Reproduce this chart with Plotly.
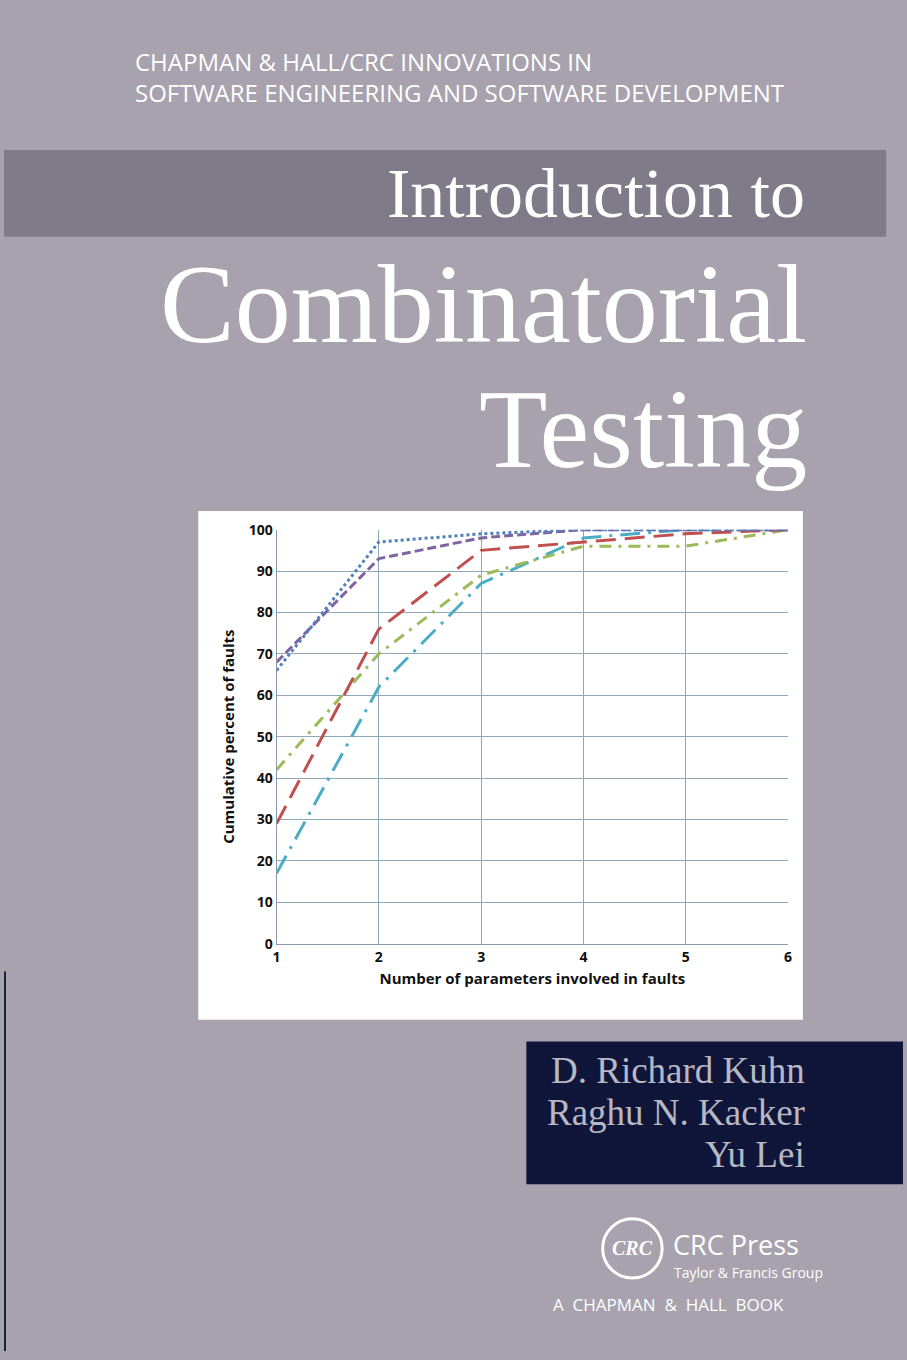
import plotly.graph_objects as go

W, H = 907, 1360
params = [1, 2, 3, 4, 5, 6]
blue_dotted = [66, 97, 99, 100, 100, 100]
purple_dash = [68, 93, 98, 100, 100, 100]
red_longdash = [29, 76, 95, 97, 99, 100]
green_dashdot = [42, 70, 89, 96, 96, 100]
cyan_longdashdot = [17, 62, 87, 98, 100, 100]
y_ticks = list(range(0, 101, 10))

def px(x, y):
    return x / W, 1 - y / H

fig = go.Figure()
series = [
    (cyan_longdashdot, "#4bacc6", "20px,8px,3px,8px"),
    (green_dashdot, "#9bbb59", "12px,7px,3px,7px"),
    (red_longdash, "#c0504d", "20px,9px"),
    (purple_dash, "#8064a2", "9px,4px"),
    (blue_dotted, "#4f81bd", "dot"),
]
for ys, c, d in series:
    fig.add_trace(go.Scatter(x=params, y=ys, mode="lines",
                             line=dict(color=c, width=3, dash=d), showlegend=False))

x0, y0 = px(275, 947)
x1, y1 = px(791, 527)
tf = dict(family="Open Sans", size=14, color="#111", weight="bold")
fig.update_xaxes(domain=[x0, x1], range=[1, 6], tickvals=params, showgrid=True,
                 gridcolor="#8eaab8", gridwidth=1.3, zeroline=False, tickfont=tf,
                 title=dict(text="<b>Number of parameters involved in faults</b>",
                            font=dict(family="Open Sans", size=15, color="#111"), standoff=8),
                 showline=True, linecolor="#8a9aa8")
fig.update_yaxes(domain=[y0, y1], range=[0, 100], tickvals=y_ticks, showgrid=True,
                 gridcolor="#8eaab8", gridwidth=1.3, zeroline=False, tickfont=tf,
                 title=dict(text="<b>Cumulative percent of faults</b>",
                            font=dict(family="Open Sans", size=15, color="#111"), standoff=10),
                 showline=True, linecolor="#8a9aa8")

shapes = []
def rect(xa, ya, xb, yb, color, layer="below"):
    a = px(xa, ya); b = px(xb, yb)
    shapes.append(dict(type="rect", xref="paper", yref="paper", x0=a[0], y0=b[1],
                       x1=b[0], y1=a[1], fillcolor=color, line=dict(width=0), layer=layer))
rect(0, 142, 890, 230, "#807b89")
rect(196, 508, 806, 1024, "#ffffff")
rect(527, 1046, 907, 1191, "#10163a")
rect(0, 975, 2, 1360, "#1a1f3a")
c = px(634, 1256)
r = 30
shapes.append(dict(type="circle", xref="paper", yref="paper", x0=c[0]-r/W, x1=c[0]+r/W,
                   y0=c[1]-r/H, y1=c[1]+r/H, line=dict(color="white", width=3)))
fig.update_layout(shapes=shapes)

ann = []
def text(x, y, s, size, family, xanchor="left", color="white"):
    p = px(x, y)
    ann.append(dict(x=p[0], y=p[1], xref="paper", yref="paper", text=s, showarrow=False,
                    xanchor=xanchor, yanchor="middle", font=dict(size=size, family=family, color=color)))
text(130, 52, "CHAPMAN &amp; HALL/CRC INNOVATIONS IN", 24, "Open Sans")
text(130, 84, "SOFTWARE ENGINEERING AND SOFTWARE DEVELOPMENT", 24, "Open Sans")
text(810, 186, "Introduction to", 70, "Liberation Serif", "right")
text(812, 298, "Combinatorial", 112, "Liberation Serif", "right")
text(812, 425, "Testing", 112, "Liberation Serif", "right")
text(810, 1076, "D. Richard Kuhn", 37, "Liberation Serif", "right", "#b8b8c4")
text(810, 1118, "Raghu N. Kacker", 37, "Liberation Serif", "right", "#b8b8c4")
text(810, 1161, "Yu Lei", 37, "Liberation Serif", "right", "#b8b8c4")
text(634, 1256, "<i><b>CRC</b></i>", 20, "Liberation Serif", "center")
text(673, 1252, "CRC Press", 27, "Open Sans")
text(674, 1280, "Taylor &amp; Francis Group", 14, "Open Sans")
text(552, 1313, "A  CHAPMAN  &amp;  HALL  BOOK", 17, "Open Sans")
fig.update_layout(annotations=ann)

fig.update_layout(width=W, height=H, margin=dict(l=0, r=0, t=0, b=0),
                  paper_bgcolor="#a7a2ad", plot_bgcolor="white")
fig.write_html("out.html", config={"displayModeBar": False},
               post_script="document.body.style.margin='0';")
